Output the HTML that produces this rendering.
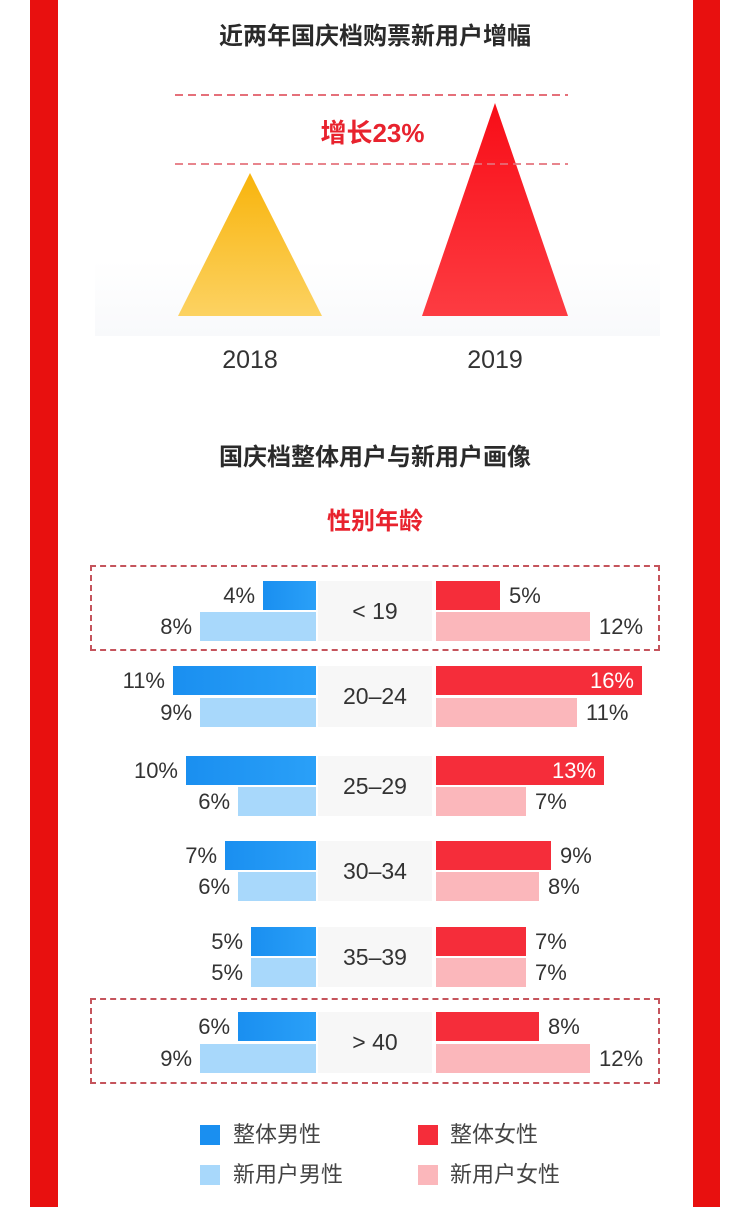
<!DOCTYPE html>
<html><head><meta charset="utf-8"><style>
body{margin:0;width:750px;height:1207px;position:relative;background:#fff;font-family:"Liberation Sans","Noto Sans CJK SC",sans-serif;overflow:hidden;color:#333}
.a{position:absolute}
.t{position:absolute;left:0;width:750px;text-align:center;font-size:24px;color:#2a2a2a;font-weight:bold}
.b{position:absolute;height:29px}
.d{background:linear-gradient(90deg,#1a8ff0,#2aa0f8)}
.l{background:#a8d8fb}
.r{background:#f52d3a}
.p{background:#fbb7bb}
.n{position:absolute;font-size:22px;line-height:29px;color:#333}
.c{position:absolute;left:318px;width:114px;background:#f7f7f7;text-align:center;font-size:23px;color:#333}
.box{position:absolute;left:90px;width:570px;height:86px;border:2px dashed #c5545c;box-sizing:border-box}
.lg{position:absolute;font-size:22px;color:#444;line-height:22px}
.sq{position:absolute;width:20px;height:20px}
</style></head><body>
<div class="a" style="left:30px;top:0;width:28px;height:1207px;background:#e8100f"></div>
<div class="a" style="left:693px;top:0;width:27px;height:1207px;background:#e8100f"></div>
<div class="t" style="top:16px">近两年国庆档购票新用户增幅</div>
<div class="a" style="left:95px;top:260px;width:565px;height:76px;background:linear-gradient(#fff,#f8f9fb)"></div>
<svg class="a" style="left:0;top:0" width="750" height="340">
<defs><linearGradient id="y" x1="0" y1="0" x2="0" y2="1"><stop offset="0" stop-color="#f8b40c"/><stop offset="1" stop-color="#fcd262"/></linearGradient>
<linearGradient id="rd" x1="0" y1="0" x2="0" y2="1"><stop offset="0" stop-color="#f80d17"/><stop offset="1" stop-color="#fd3c42"/></linearGradient></defs>
<line x1="175" y1="95" x2="568" y2="95" stroke="#e5707a" stroke-width="2" stroke-dasharray="8,5"/>
<polygon points="250,173 178,316 322,316" fill="url(#y)"/>
<polygon points="495,103 422,316 568,316" fill="url(#rd)"/>
<line x1="175" y1="164" x2="568" y2="164" stroke="#e5707a" stroke-width="2" stroke-dasharray="8,5" opacity="0.85"/>
</svg>
<div class="a" style="left:300px;top:113px;width:145px;text-align:center;font-size:26px;font-weight:bold;color:#e8232e">增长23%</div>
<div class="a" style="left:200px;top:346px;width:100px;text-align:center;font-size:25px;color:#333">2018</div>
<div class="a" style="left:445px;top:346px;width:100px;text-align:center;font-size:25px;color:#333">2019</div>
<div class="t" style="top:437px">国庆档整体用户与新用户画像</div>
<div class="t" style="top:501px;color:#e8232e;font-weight:bold">性别年龄</div>

<div class="box" style="top:565px"></div>
<div class="box" style="top:998px"></div>

<div class="c" style="top:581px;height:60px;line-height:60px">&lt; 19</div>
<div class="b d" style="left:263px;width:53px;top:581px"></div><div class="n" style="right:495px;top:581px">4%</div>
<div class="b l" style="left:200px;width:116px;top:612px"></div><div class="n" style="right:558px;top:612px">8%</div>
<div class="b r" style="left:436px;width:64px;top:581px"></div><div class="n" style="left:509px;top:581px">5%</div>
<div class="b p" style="left:436px;width:154px;top:612px"></div><div class="n" style="left:599px;top:612px">12%</div>

<div class="c" style="top:666px;height:61px;line-height:61px">20–24</div>
<div class="b d" style="left:173px;width:143px;top:666px"></div><div class="n" style="right:585px;top:666px">11%</div>
<div class="b l" style="left:200px;width:116px;top:698px"></div><div class="n" style="right:558px;top:698px">9%</div>
<div class="b r" style="left:436px;width:206px;top:666px"></div><div class="n" style="right:116px;top:666px;color:#fff">16%</div>
<div class="b p" style="left:436px;width:141px;top:698px"></div><div class="n" style="left:586px;top:698px">11%</div>

<div class="c" style="top:756px;height:60px;line-height:60px">25–29</div>
<div class="b d" style="left:186px;width:130px;top:756px"></div><div class="n" style="right:572px;top:756px">10%</div>
<div class="b l" style="left:238px;width:78px;top:787px"></div><div class="n" style="right:520px;top:787px">6%</div>
<div class="b r" style="left:436px;width:168px;top:756px"></div><div class="n" style="right:154px;top:756px;color:#fff">13%</div>
<div class="b p" style="left:436px;width:90px;top:787px"></div><div class="n" style="left:535px;top:787px">7%</div>

<div class="c" style="top:841px;height:60px;line-height:60px">30–34</div>
<div class="b d" style="left:225px;width:91px;top:841px"></div><div class="n" style="right:533px;top:841px">7%</div>
<div class="b l" style="left:238px;width:78px;top:872px"></div><div class="n" style="right:520px;top:872px">6%</div>
<div class="b r" style="left:436px;width:115px;top:841px"></div><div class="n" style="left:560px;top:841px">9%</div>
<div class="b p" style="left:436px;width:103px;top:872px"></div><div class="n" style="left:548px;top:872px">8%</div>

<div class="c" style="top:927px;height:60px;line-height:60px">35–39</div>
<div class="b d" style="left:251px;width:65px;top:927px"></div><div class="n" style="right:507px;top:927px">5%</div>
<div class="b l" style="left:251px;width:65px;top:958px"></div><div class="n" style="right:507px;top:958px">5%</div>
<div class="b r" style="left:436px;width:90px;top:927px"></div><div class="n" style="left:535px;top:927px">7%</div>
<div class="b p" style="left:436px;width:90px;top:958px"></div><div class="n" style="left:535px;top:958px">7%</div>

<div class="c" style="top:1012px;height:61px;line-height:61px">&gt; 40</div>
<div class="b d" style="left:238px;width:78px;top:1012px"></div><div class="n" style="right:520px;top:1012px">6%</div>
<div class="b l" style="left:200px;width:116px;top:1044px"></div><div class="n" style="right:558px;top:1044px">9%</div>
<div class="b r" style="left:436px;width:103px;top:1012px"></div><div class="n" style="left:548px;top:1012px">8%</div>
<div class="b p" style="left:436px;width:154px;top:1044px"></div><div class="n" style="left:599px;top:1044px">12%</div>

<div class="sq" style="left:200px;top:1125px;background:#1a8ff0"></div><div class="lg" style="left:233px;top:1124px">整体男性</div>
<div class="sq" style="left:418px;top:1125px;background:#f52d3a"></div><div class="lg" style="left:450px;top:1124px">整体女性</div>
<div class="sq" style="left:200px;top:1165px;background:#a8d8fb"></div><div class="lg" style="left:233px;top:1164px">新用户男性</div>
<div class="sq" style="left:418px;top:1165px;background:#fbb7bb"></div><div class="lg" style="left:450px;top:1164px">新用户女性</div>
</body></html>
